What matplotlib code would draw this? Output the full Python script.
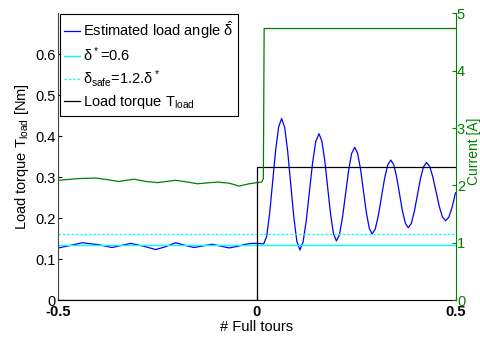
import matplotlib
matplotlib.use("Agg")
import matplotlib.pyplot as plt

plt.rcParams['font.family'] = ['Liberation Sans', 'DejaVu Sans']
plt.rcParams['mathtext.fontset'] = 'custom'
plt.rcParams['mathtext.rm'] = 'Liberation Sans'
plt.rcParams['mathtext.it'] = 'Liberation Sans'
plt.rcParams['mathtext.bf'] = 'Liberation Sans:bold'

# estimated load angle (left axis units)
angle_x = [-0.5, -0.475, -0.44, -0.40, -0.365, -0.318, -0.285, -0.255, -0.23,
           -0.205, -0.18, -0.159, -0.135, -0.113, -0.09, -0.07, -0.048, -0.028,
           -0.013, 0.0, 0.017,
           0.0245, 0.032, 0.0395, 0.047, 0.0545, 0.062,
           0.0697, 0.0773, 0.085, 0.0927, 0.1003, 0.108,
           0.116, 0.124, 0.132, 0.140, 0.148, 0.156,
           0.1633, 0.1707, 0.178, 0.1853, 0.1927, 0.200,
           0.2077, 0.2153, 0.223, 0.2307, 0.2383, 0.246,
           0.2533, 0.2607, 0.268, 0.2753, 0.2827, 0.290,
           0.2978, 0.3057, 0.3135, 0.3213, 0.3292, 0.337,
           0.3443, 0.3517, 0.359, 0.3663, 0.3737, 0.381,
           0.3887, 0.3963, 0.404, 0.4117, 0.4193, 0.427,
           0.435, 0.443, 0.451, 0.459, 0.467, 0.475,
           0.4833, 0.4917, 0.5]
angle_y = [0.128, 0.133, 0.1405, 0.136, 0.129, 0.139, 0.132, 0.124, 0.131,
           0.1405, 0.134, 0.129, 0.133, 0.137, 0.132, 0.128, 0.132, 0.137,
           0.139, 0.139, 0.138,
           0.157, 0.2135, 0.29, 0.3665, 0.4225, 0.443,
           0.4216, 0.363, 0.283, 0.203, 0.1444, 0.123,
           0.142, 0.194, 0.2645, 0.335, 0.387, 0.406,
           0.3885, 0.3408, 0.2755, 0.2103, 0.1625, 0.145,
           0.1603, 0.202, 0.259, 0.316, 0.3577, 0.373,
           0.3589, 0.3203, 0.2675, 0.2148, 0.1761, 0.162,
           0.174, 0.207, 0.252, 0.297, 0.330, 0.342,
           0.331, 0.3008, 0.2595, 0.2183, 0.188, 0.177,
           0.1877, 0.2168, 0.2565, 0.2963, 0.3253, 0.336,
           0.3265, 0.3005, 0.265, 0.2295, 0.2035, 0.194,
           0.203, 0.228, 0.262]

delta_ref = 0.135
delta_safe = 0.162

torque_x = [-0.5, 0.0, 0.0, 0.5]
torque_y = [0.0, 0.0, 0.326, 0.326]

# current [A], right axis
current_x = [-0.5, -0.45, -0.407, -0.375, -0.348, -0.31, -0.28, -0.251, -0.205,
             -0.175, -0.15, -0.1, -0.07, -0.045, -0.02, 0.0, 0.012, 0.016,
             0.018, 0.5]
current_y = [2.09, 2.12, 2.13, 2.10, 2.07, 2.11, 2.07, 2.05, 2.09,
             2.06, 2.03, 2.06, 2.04, 1.99, 2.03, 2.05, 2.06, 2.12,
             4.73, 4.73]

green = '#008000'

fig = plt.figure(figsize=(4.81, 3.38), dpi=100)
ax = fig.add_axes([0.1216, 0.111, 0.8254, 0.8505])
ax2 = ax.twinx()

l1, = ax.plot(angle_x, angle_y, color='#0000ff', lw=0.9,
              label=r'Estimated load angle $\hat{\delta}$')
l2 = ax.axhline(delta_ref, color='#00ffff', lw=1.0, label=r'$\delta^*$=0.6')
l3 = ax.axhline(delta_safe, color='#00ffff', lw=0.9, ls=(0, (2, 1.5)),
                label=r'$\delta_{safe}$=1.2.$\delta^*$')
l4, = ax.plot(torque_x, torque_y, color='black', lw=0.9,
              label=r'Load torque T$_{load}$')
ax2.plot(current_x, current_y, color=green, lw=0.9)

ax.set_xlim(-0.5, 0.5)
ax.set_ylim(0, 0.7)
ax2.set_ylim(0, 5)
ax.set_xticks([-0.5, 0, 0.5])
ax.set_xticklabels(['-0.5', '0', '0.5'], fontweight='bold')
ax.set_yticks([0, 0.1, 0.2, 0.3, 0.4, 0.5, 0.6])
ax.set_yticklabels(['0', '0.1', '0.2', '0.3', '0.4', '0.5', '0.6'])
ax2.set_yticks([0, 1, 2, 3, 4, 5])

ax.tick_params(axis='both', direction='in', length=3, labelsize=10.5, pad=2)
ax.tick_params(axis='x', pad=3)
ax2.tick_params(axis='y', direction='in', length=3, labelsize=10.5,
                colors=green, pad=1)

for a in (ax, ax2):
    a.spines['top'].set_visible(False)
ax.spines['right'].set_visible(False)
ax2.spines['right'].set_color(green)
ax2.spines['left'].set_visible(False)
ax2.spines['bottom'].set_visible(False)
ax.spines['left'].set_color('#444444')

ax.set_xlabel('# Full tours', fontsize=10.5, labelpad=1)
ax.set_ylabel(r'Load torque T$_{load}$ [Nm]', fontsize=10.5, labelpad=3)
ax2.set_ylabel('Current [A]', fontsize=10, color=green)
ax2.yaxis.set_label_coords(1.029, 0.52)

leg = ax2.legend([l1, l2, l3, l4], [h.get_label() for h in (l1, l2, l3, l4)],
                 loc='upper left', fontsize=10.5, fancybox=False,
                 edgecolor='black', framealpha=1, borderaxespad=0.1,
                 handlelength=1.1, handletextpad=0.2, labelspacing=0.3,
                 borderpad=0.3)
leg.get_frame().set_linewidth(0.8)

fig.savefig('out.png', dpi=100)
